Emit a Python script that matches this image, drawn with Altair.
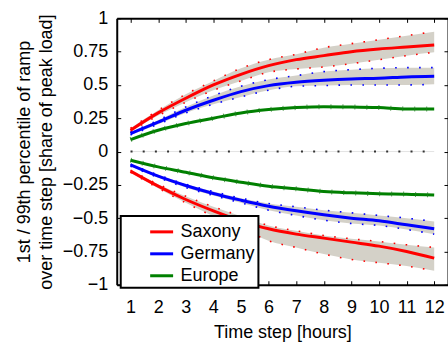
import altair as alt
import pandas as pd

steps = list(range(1, 13))
series_names = ["Saxony", "Germany", "Europe"]
series_colors = ["#ff0000", "#0000ff", "#008000"]
y_ticks = [-1, -0.75, -0.5, -0.25, 0, 0.25, 0.5, 0.75, 1]

# 99th percentile (upper) and 1st percentile (lower) with uncertainty bands
saxony_up = [0.16, 0.29, 0.40, 0.50, 0.58, 0.645, 0.69, 0.72, 0.75, 0.77, 0.785, 0.80]
saxony_up_lo = [0.15, 0.27, 0.37, 0.46, 0.53, 0.595, 0.62, 0.635, 0.66, 0.69, 0.72, 0.745]
saxony_up_hi = [0.175, 0.31, 0.43, 0.53, 0.625, 0.69, 0.73, 0.78, 0.81, 0.84, 0.87, 0.90]
saxony_lo = [-0.147, -0.26, -0.36, -0.445, -0.52, -0.58, -0.62, -0.65, -0.68, -0.71, -0.75, -0.80]
saxony_lo_hi = [-0.14, -0.245, -0.335, -0.415, -0.485, -0.555, -0.595, -0.63, -0.655, -0.675, -0.70, -0.72]
saxony_lo_lo = [-0.155, -0.275, -0.385, -0.485, -0.57, -0.67, -0.72, -0.77, -0.81, -0.835, -0.86, -0.895]

germany_up = [0.135, 0.22, 0.31, 0.385, 0.45, 0.495, 0.52, 0.535, 0.545, 0.55, 0.56, 0.565]
germany_up_lo = [0.125, 0.205, 0.29, 0.355, 0.41, 0.46, 0.49, 0.495, 0.50, 0.50, 0.50, 0.505]
germany_up_hi = [0.145, 0.235, 0.335, 0.42, 0.49, 0.54, 0.57, 0.60, 0.615, 0.625, 0.63, 0.63]
germany_lo = [-0.10, -0.185, -0.255, -0.315, -0.365, -0.41, -0.445, -0.475, -0.50, -0.52, -0.55, -0.58]
germany_lo_hi = [-0.095, -0.175, -0.245, -0.30, -0.35, -0.39, -0.415, -0.44, -0.46, -0.48, -0.50, -0.525]
germany_lo_lo = [-0.11, -0.195, -0.27, -0.33, -0.385, -0.44, -0.48, -0.515, -0.54, -0.555, -0.585, -0.62]

europe_up = [0.09, 0.16, 0.21, 0.25, 0.29, 0.315, 0.33, 0.337, 0.335, 0.33, 0.32, 0.32]
europe_lo = [-0.065, -0.115, -0.155, -0.197, -0.23, -0.26, -0.28, -0.30, -0.31, -0.317, -0.32, -0.327]

# ---- tables built from the arrays ----
main = {
    ("Saxony", "up"): saxony_up, ("Saxony", "lo"): saxony_lo,
    ("Germany", "up"): germany_up, ("Germany", "lo"): germany_lo,
    ("Europe", "up"): europe_up, ("Europe", "lo"): europe_lo,
}
bands = {
    ("Saxony", "up"): (saxony_up_lo, saxony_up_hi),
    ("Saxony", "lo"): (saxony_lo_lo, saxony_lo_hi),
    ("Germany", "up"): (germany_up_lo, germany_up_hi),
    ("Germany", "lo"): (germany_lo_lo, germany_lo_hi),
}

line_rows = []
for (s, p), vals in main.items():
    for t, v in zip(steps, vals):
        line_rows.append({"series": s, "key": s + p, "step": t, "value": v})
lines_df = pd.DataFrame(line_rows)

band_rows, bound_rows = [], []
for (s, p), (lo, hi) in bands.items():
    for t, a, b in zip(steps, lo, hi):
        band_rows.append({"series": s, "key": s + p, "step": t, "lo": a, "hi": b})
        bound_rows.append({"series": s, "key": s + p + "a", "step": t, "value": a})
        bound_rows.append({"series": s, "key": s + p + "b", "step": t, "value": b})
bands_df = pd.DataFrame(band_rows)
bounds_df = pd.DataFrame(bound_rows)
europe_df = lines_df[lines_df["series"] == "Europe"]

FONT = "Liberation Sans"
xscale = alt.Scale(domain=[0.5, 12.5], nice=False, zero=False)
yscale = alt.Scale(domain=[-1, 1], nice=False)
cscale = alt.Scale(domain=series_names, range=series_colors)

tick_grid = dict(grid=True, gridDash=[4, 1000], gridColor="black", gridWidth=1,
                 gridOpacity=1, ticks=False, domain=True, domainColor="black",
                 domainWidth=2)

x_bottom = alt.Axis(orient="bottom", values=steps, title="Time step [hours]",
                    labelFontSize=18, labelFont=FONT, labelPadding=14,
                    labelColor="black", titleFontSize=18, titleFont=FONT,
                    titleFontWeight="normal", titleColor="black", titlePadding=7,
                    labelFlush=False, labelOverlap=False, **tick_grid)
y_left = alt.Axis(orient="left", values=y_ticks, format=".2~f",
                  title=["1st / 99th percentile of ramp",
                         "over time step [share of peak load]"],
                  labelFontSize=18, labelFont=FONT, labelPadding=9,
                  labelColor="black", titleFontSize=18, titleFont=FONT,
                  titleFontWeight="normal", titleColor="black",
                  titleX=-92, titleY=133.5, titleAngle=-90,
                  titleBaseline="middle", titleAlign="center",
                  titleLineHeight=22, labelFlush=False, labelOverlap=False,
                  **tick_grid)
x_top = alt.Axis(orient="top", values=steps, labels=False, title=None, **tick_grid)
y_right = alt.Axis(orient="right", values=y_ticks, labels=False, title=None, **tick_grid)

band_layer = alt.Chart(bands_df).mark_area(
    color="#d4d1c8", interpolate="monotone", opacity=1
).encode(
    x=alt.X("step:Q", scale=xscale, axis=x_top),
    y=alt.Y("lo:Q", scale=yscale, axis=y_right),
    y2="hi:Q",
    detail="key:N",
)

bound_layer = alt.Chart(bounds_df).mark_line(
    strokeWidth=1.6, strokeDash=[1.6, 10.4], interpolate="monotone"
).encode(
    x=alt.X("step:Q", scale=xscale, axis=None),
    y=alt.Y("value:Q", scale=yscale, axis=None),
    color=alt.Color("series:N", scale=cscale, legend=None),
    detail="key:N",
)

zero_gray = alt.Chart(alt.Data(values=[{}])).mark_rule(
    color="#e4e4e4", strokeWidth=1
).encode(
    x=alt.XDatum(1, scale=xscale, axis=None),
    x2=alt.X2Datum(12),
    y=alt.YDatum(0, scale=yscale, axis=None),
)
zero_dots = alt.Chart(alt.Data(values=[{}])).mark_rule(
    color="#333333", strokeWidth=2, strokeDash=[2, 10.2]
).encode(
    x=alt.XDatum(1, scale=xscale, axis=None),
    x2=alt.X2Datum(12),
    y=alt.YDatum(0, scale=yscale, axis=None),
)

main_layer = alt.Chart(lines_df).mark_line(
    strokeWidth=3, interpolate="monotone"
).encode(
    x=alt.X("step:Q", scale=xscale, axis=x_bottom),
    y=alt.Y("value:Q", scale=yscale, axis=y_left),
    color=alt.Color(
        "series:N", scale=cscale, sort=series_names,
        legend=alt.Legend(
            title=None, orient="none", legendX=4, legendY=198,
            strokeColor="black", fillColor="white", padding=3,
            symbolType="stroke", symbolSize=529, symbolStrokeWidth=3,
            symbolOffset=25, labelFontSize=18, labelFont=FONT,
            labelColor="black", labelOffset=6, rowPadding=-4,
        ),
    ),
    detail="key:N",
)

europe_ticks = alt.Chart(europe_df).mark_line(
    strokeWidth=5, strokeDash=[1, 11], interpolate="monotone", color="#1f7a1f",
    opacity=0.7
).encode(
    x=alt.X("step:Q", scale=xscale, axis=None),
    y=alt.Y("value:Q", scale=yscale, axis=None),
    detail="key:N",
)

chart = alt.layer(
    band_layer, bound_layer, zero_gray, zero_dots, main_layer, europe_ticks
).resolve_axis(
    x="independent", y="independent"
).resolve_legend(
    color="independent"
).properties(
    width=332, height=267,
    autosize=alt.AutoSizeParams(type="none"),
    padding={"left": 117, "top": 18, "right": 0, "bottom": 59},
).configure_view(stroke=None).configure_legend(strokeWidth=2)

chart.save("out.html", embed_options={"renderer": "svg", "actions": False})
